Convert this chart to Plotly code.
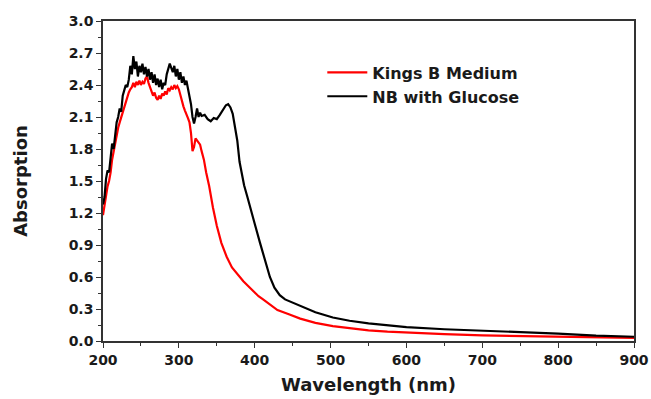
import plotly.graph_objects as go

# NB with Glucose (black)
wl_nb = [200, 202, 204, 206, 208, 210, 212, 214, 216, 218, 220, 222, 224, 226, 228, 230,
         232, 234, 236, 238, 240, 242, 244, 246, 248, 250, 252, 254, 256, 258, 260, 262,
         264, 266, 268, 270, 272, 274, 276, 278, 280, 282, 284, 286, 288, 290, 292, 294,
         296, 298, 300, 302, 304, 306, 308, 310, 312, 314, 316, 318, 320, 322, 324, 326,
         328, 330, 334, 338, 342, 346, 350, 354, 358, 362, 365, 368, 371, 374, 377, 380,
         383, 386, 390, 394, 400, 407, 414, 420, 426, 433, 440, 450, 460, 480, 503, 525,
         550, 575, 600, 650, 700, 750, 800, 850, 900]
abs_nb = [1.28, 1.35, 1.52, 1.60, 1.58, 1.72, 1.85, 1.80, 1.95, 2.05, 2.10, 2.18, 2.15, 2.30, 2.35, 2.40,
          2.38, 2.45, 2.58, 2.50, 2.67, 2.55, 2.62, 2.48, 2.58, 2.52, 2.60, 2.50, 2.57, 2.48, 2.55, 2.45,
          2.52, 2.42, 2.50, 2.40, 2.46, 2.38, 2.45, 2.36, 2.42, 2.40, 2.50, 2.55, 2.60, 2.56, 2.52, 2.58,
          2.48, 2.55, 2.45, 2.52, 2.42, 2.48, 2.40, 2.44, 2.36, 2.30, 2.22, 2.10, 2.04, 2.10, 2.18, 2.10,
          2.14, 2.11, 2.12, 2.08, 2.06, 2.09, 2.08, 2.12, 2.17, 2.21, 2.22, 2.19, 2.13, 2.02, 1.88, 1.68,
          1.55, 1.46, 1.36, 1.25, 1.10, 0.92, 0.75, 0.60, 0.50, 0.43, 0.39, 0.36, 0.33, 0.27, 0.22, 0.19,
          0.165, 0.145, 0.13, 0.11, 0.097, 0.085, 0.07, 0.05, 0.04]

# Kings B Medium (red)
wl_kb = [200, 202, 204, 206, 208, 210, 212, 214, 216, 218, 220, 222, 224, 226, 228, 230,
         232, 234, 236, 238, 240, 242, 244, 246, 248, 250, 252, 254, 256, 258, 260, 262,
         264, 266, 268, 270, 272, 274, 276, 278, 280, 282, 284, 286, 288, 290, 292, 294,
         296, 298, 300, 302, 304, 306, 308, 310, 312, 314, 316, 318, 320, 322, 324, 326,
         328, 330, 333, 336, 340, 345, 350, 356, 363, 370, 378, 385, 395, 405, 411, 420,
         430, 445, 460, 480, 503, 525, 550, 575, 600, 650, 700, 750, 800, 850, 900]
abs_kb = [1.18, 1.28, 1.38, 1.45, 1.50, 1.58, 1.70, 1.78, 1.85, 1.92, 2.00, 2.05, 2.10, 2.14, 2.20, 2.25,
          2.28, 2.33, 2.36, 2.38, 2.42, 2.38, 2.43, 2.40, 2.44, 2.40, 2.43, 2.41, 2.46, 2.48, 2.42, 2.38,
          2.35, 2.30, 2.33, 2.28, 2.26, 2.30, 2.27, 2.32, 2.30, 2.34, 2.31, 2.37, 2.35, 2.38, 2.36, 2.40,
          2.37, 2.39, 2.36, 2.30, 2.24, 2.20, 2.16, 2.13, 2.09, 2.05, 1.95, 1.78, 1.82, 1.90, 1.88, 1.86,
          1.84, 1.78, 1.70, 1.58, 1.45, 1.25, 1.08, 0.92, 0.79, 0.69, 0.62, 0.56, 0.49, 0.42, 0.39, 0.34,
          0.29, 0.25, 0.21, 0.17, 0.14, 0.12, 0.10, 0.088, 0.078, 0.065, 0.052, 0.045, 0.04, 0.035, 0.03]

x_ticks = [200, 300, 400, 500, 600, 700, 800, 900]
y_ticks = [0.0, 0.3, 0.6, 0.9, 1.2, 1.5, 1.8, 2.1, 2.4, 2.7, 3.0]

fig = go.Figure()
fig.add_trace(go.Scatter(x=wl_kb, y=abs_kb, mode="lines", name="Kings B Medium",
                         line=dict(color="#ff0000", width=2.2)))
fig.add_trace(go.Scatter(x=wl_nb, y=abs_nb, mode="lines", name="NB with Glucose",
                         line=dict(color="#000000", width=2.2)))

fam = "DejaVu Sans"
axis_col = "#333333"
txt_col = "#1a1a1a"
fig.update_layout(
    width=651, height=399,
    margin=dict(l=103, r=17, t=21, b=58, autoexpand=False),
    paper_bgcolor="white", plot_bgcolor="white",
    font=dict(family=fam, color=txt_col),
    showlegend=True,
    legend=dict(x=0.413, y=0.892, xanchor="left", yanchor="top",
                bgcolor="rgba(0,0,0,0)", tracegroupgap=0,
                font=dict(family=fam, size=16, color=txt_col, weight="bold"),
                itemwidth=40),
    xaxis=dict(range=[200, 900], tickvals=x_ticks, ticktext=[str(v) for v in x_ticks],
               ticks="outside", ticklen=5, tickwidth=1.2, tickcolor=axis_col,
               showline=True, linecolor=axis_col, linewidth=1.5, mirror=True,
               showgrid=False, zeroline=False, automargin=False,
               minor=dict(dtick=50, tick0=200, ticks="outside", ticklen=3, tickcolor=axis_col),
               tickfont=dict(size=14, family=fam, weight="bold", color=txt_col),
               title=dict(text="Wavelength (nm)", standoff=12,
                          font=dict(size=18, family=fam, weight="bold", color=txt_col))),
    yaxis=dict(range=[0, 3.0], tickvals=y_ticks, ticktext=[f"{v:.1f}" for v in y_ticks],
               ticks="outside", ticklen=5, tickwidth=1.2, tickcolor=axis_col,
               showline=True, linecolor=axis_col, linewidth=1.5, mirror=True,
               showgrid=False, zeroline=False, automargin=False,
               minor=dict(dtick=0.15, tick0=0, ticks="outside", ticklen=3, tickcolor=axis_col),
               tickfont=dict(size=14, family=fam, weight="bold", color=txt_col),
               title=dict(text="Absorption", standoff=36,
                          font=dict(size=18, family=fam, weight="bold", color=txt_col))),
)

fig.write_html("out.html", config={"displayModeBar": False},
               post_script="document.body.style.margin='0';")
